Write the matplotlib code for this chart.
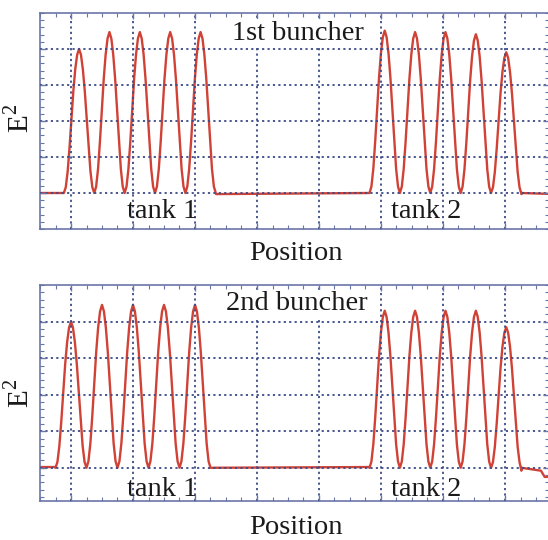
import matplotlib
matplotlib.use("Agg")
import matplotlib.pyplot as plt
import numpy as np
from matplotlib.ticker import MultipleLocator

plt.rcParams['font.family'] = ['Liberation Serif', 'DejaVu Serif']
plt.rcParams['mathtext.fontset'] = 'custom'
plt.rcParams['mathtext.rm'] = 'Liberation Serif'

# one hump of E^2 (fraction of peak height above base),
# sampled 16 times per period, starting at a minimum
hump_profile = [0.0, 0.04, 0.15, 0.32, 0.52, 0.71, 0.86, 0.96,
                1.0, 0.96, 0.86, 0.71, 0.52, 0.32, 0.15, 0.04]

# 1st buncher
top_tank1_start, top_tank1_period = 0.385, 0.49
top_tank1_peaks = [5.0, 5.47, 5.47, 5.47, 5.47]
top_tank2_start, top_tank2_period = 5.315, 0.49
top_tank2_peaks = [5.51, 5.47, 5.47, 5.41, 4.91]
top_base_x = [0.0, 0.385, 2.84, 5.315, 7.765, 8.3]
top_base_y = [1.0, 1.0, 0.97, 1.0, 0.97, 0.97]

# 2nd buncher
bot_tank1_start, bot_tank1_period = 0.25, 0.50
bot_tank1_peaks = [5.0, 5.46, 5.46, 5.46, 5.46]
bot_tank2_start, bot_tank2_period = 5.315, 0.49
bot_tank2_peaks = [5.30, 5.30, 5.30, 5.30, 4.85]
bot_base_x = [0.0, 0.25, 2.75, 5.315, 7.765, 8.08, 8.14, 8.3]
bot_base_y = [1.02, 1.02, 1.0, 1.02, 0.92, 0.92, 0.75, 0.75]


def tank(start, period, peaks, base):
    xs, ys = [], []
    n = len(hump_profile)
    for k, p in enumerate(peaks):
        for j, f in enumerate(hump_profile):
            xs.append(start + (k + j / n) * period)
            ys.append(base + f * (p - base))
    xs.append(start + len(peaks) * period)
    ys.append(base)
    return xs, ys


def curve(base_x, base_y, tanks):
    # baseline points with the tanks spliced in
    pts = list(zip(base_x, base_y))
    for t in tanks:
        tx, ty = tank(*t)
        pts += list(zip(tx, ty))
    pts.sort(key=lambda q: q[0])
    return [q[0] for q in pts], [q[1] for q in pts]


W, H = 548, 540
fig = plt.figure(figsize=(W / 100, H / 100), dpi=100)

spine_col = '#6a76a8'
grid_col = '#3c4a86'
line_col = '#d04236'


def setup(ax, ylim):
    ax.set_xlim(0, 509 / 62)
    ax.set_ylim(*ylim)
    ax.set_xticks(np.arange(0.5, 8.3, 1.0))
    ax.xaxis.set_minor_locator(MultipleLocator(0.25))
    ax.set_yticks(np.arange(1, 6, 1))
    ax.yaxis.set_minor_locator(MultipleLocator(0.2))
    ax.tick_params(which='both', direction='in', top=True, right=True,
                   labelbottom=False, labelleft=False, color=spine_col)
    ax.tick_params(which='major', length=4, width=1)
    ax.tick_params(which='minor', length=3, width=0.8)
    for s in ax.spines.values():
        s.set_color(spine_col)
        s.set_linewidth(1.2)
    ax.grid(True, which='major', linestyle=(0, (1.2, 1.8)), color=grid_col, linewidth=1.3)
    ax.set_axisbelow(False)


# top panel
ax1 = fig.add_axes([40 / W, 1 - 229 / H, 509 / W, 216 / H])
setup(ax1, (0, 6))
x1, y1 = curve(top_base_x, top_base_y,
               [(top_tank1_start, top_tank1_period, top_tank1_peaks, 1.0),
                (top_tank2_start, top_tank2_period, top_tank2_peaks, 1.0)])
ax1.plot(x1, y1, color=line_col, linewidth=1.7, zorder=2)

# bottom panel
ax2 = fig.add_axes([40 / W, 1 - 501 / H, 509 / W, 216 / H])
setup(ax2, (0.09, 6.005))
x2, y2 = curve(bot_base_x, bot_base_y,
               [(bot_tank1_start, bot_tank1_period, bot_tank1_peaks, 1.0),
                (bot_tank2_start, bot_tank2_period, bot_tank2_peaks, 1.0)])
ax2.plot(x2, y2, color=line_col, linewidth=1.7, zorder=2)

fs = 20.5
txt = '#1a1a1a'
box = dict(facecolor='white', edgecolor='none', pad=1.5)

fig.text(298 / W, 1 - 33 / H, '1st buncher', ha='center', va='center',
         fontsize=fs, color=txt, bbox=box, zorder=10)
fig.text(297 / W, 1 - 304 / H, '2nd buncher', ha='center', va='center',
         fontsize=fs, color=txt, bbox=box, zorder=10)

for yy in (212, 489):
    fig.text(162 / W, 1 - yy / H, 'tank 1', ha='center', va='center',
             fontsize=fs, color=txt, zorder=1)
    fig.text(426 / W, 1 - yy / H, 'tank 2', ha='center', va='center',
             fontsize=fs, color=txt, zorder=1)

fig.text(296 / W, 1 - 254 / H, 'Position', ha='center', va='center',
         fontsize=fs, color=txt)
fig.text(296 / W, 1 - 527 / H, 'Position', ha='center', va='center',
         fontsize=fs, color=txt)

for yy in (118, 393):
    fig.text(19 / W, 1 - yy / H, r'E$^{2}$', ha='center', va='center',
             rotation=90, fontsize=21, color=txt)

fig.savefig('out.png', dpi=100)
